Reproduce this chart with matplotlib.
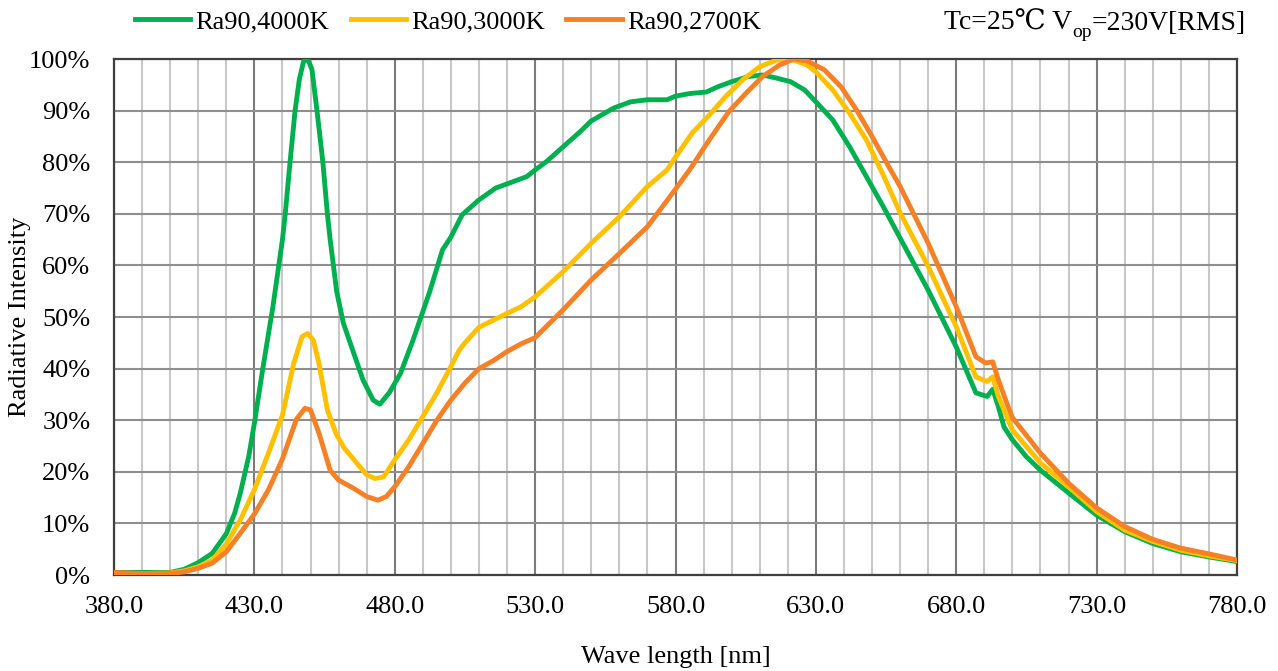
import matplotlib
matplotlib.use("Agg")
import matplotlib.pyplot as plt
from matplotlib.ticker import FixedLocator

plt.rcParams['font.family'] = ['Liberation Serif', 'DejaVu Serif', 'Noto Sans CJK SC']

# spectra (wavelength nm, relative intensity %)
wl_4000 = [380, 390, 400, 405, 410, 415, 420, 423, 425, 428, 430, 433, 436.6, 440, 441,
           442.7, 444.5, 446, 447.5, 449, 450.5, 452.3, 454.4, 456, 457, 459.3, 461.7, 465,
           468.7, 472.3, 474.7, 478, 482, 486.5, 492.5, 497, 500, 504, 510, 516, 522, 527,
           530, 534, 540, 546, 550, 558, 564, 570, 577, 580, 585, 591, 595, 600, 606, 611,
           616, 621, 626, 630, 636, 642, 648, 654, 660, 670, 680, 687, 691, 693, 695, 697,
           700, 705, 710, 720, 730, 740, 750, 760, 770, 780]
ra90_4000 = [0.5, 0.5, 0.5, 1.1, 2.4, 4.2, 8.0, 12, 15.9, 23, 29.4, 40, 52, 65, 70,
             80, 90, 96, 99.5, 100, 98, 90, 80, 70, 65, 55, 48.8, 43.6,
             37.8, 33.9, 33.1, 35.3, 39, 45.5, 55, 63, 65.5, 69.8, 72.7, 75, 76.2, 77.2,
             78.5, 80.1, 83, 85.9, 88, 90.5, 91.7, 92.1, 92.1, 92.8, 93.3, 93.6, 94.6, 95.6, 96.6, 96.9,
             96.3, 95.6, 94, 91.7, 88.2, 83, 77.2, 71.4, 65.3, 55.2, 44.2, 35.3, 34.6, 36, 32.6, 28.7,
             26.2, 22.9, 20.3, 15.9, 11.6, 8.4, 6.1, 4.5, 3.5, 2.6]

wl_3000 = [380, 390, 400, 405, 410, 415, 420, 425, 430, 435, 440, 444, 447, 449, 451, 453,
           456, 459, 462, 466, 470, 473, 476, 480, 485, 490, 495, 500, 503, 505, 510, 520,
           525, 530, 540, 550, 560, 570, 577, 580, 586, 592, 598, 604, 610, 616, 622, 627,
           630, 636, 642, 648, 654, 660, 670, 680, 687, 691, 693, 695, 700, 710, 720, 730,
           740, 750, 760, 770, 780]
ra90_3000 = [0.3, 0.3, 0.4, 0.8, 1.6, 2.9, 6.0, 10.7, 16.5, 23.6, 31.0, 41, 46.2, 46.8, 45.5, 41,
             32, 27.5, 24.6, 22, 19.4, 18.7, 19, 22.3, 26.2, 30.7, 35.3, 40.4, 43.6, 45, 48, 50.7,
             52, 53.9, 58.8, 64.3, 69.4, 75.3, 78.5, 81, 85.7, 89.1, 92.8, 96, 98.5, 99.8, 99.8, 98.8,
             97.5, 94, 89.5, 84.3, 77.5, 70.2, 59.8, 48.1, 38.4, 37.5, 38.4, 34.6, 28.1, 21.7, 17.1, 12.3,
             8.7, 6.5, 4.8, 3.7, 2.8]

wl_2700 = [380, 390, 400, 405, 410, 415, 420, 425, 430, 435, 440, 445, 448, 450, 453, 457,
           460, 465, 470, 474, 477, 480, 485, 490, 495, 500, 505, 510, 515, 520, 525, 530,
           540, 550, 560, 570, 578, 585, 592, 599, 605, 611, 617, 622, 627, 633, 639, 644.5,
           650, 656, 660, 670, 680, 687, 690.4, 693, 695, 698, 700, 710, 720, 730, 740, 750,
           760, 770, 780]
ra90_2700 = [0.5, 0.3, 0.3, 0.6, 1.3, 2.3, 4.5, 8.1, 11.8, 16.5, 22.5, 30.2, 32.3, 32, 27.5, 20.3,
             18.4, 16.9, 15.2, 14.5, 15.2, 17.1, 21, 25.5, 30, 33.9, 37.2, 40, 41.5, 43.3, 44.8, 46,
             51.4, 57.2, 62.3, 67.5, 73.3, 78.5, 84.3, 89.8, 93.3, 96.6, 98.8, 100, 99.6, 97.9, 94.6, 90.1,
             85, 79.1, 75.3, 64.3, 52, 42.3, 41.1, 41.3, 37.8, 33.3, 30.5, 23.6, 17.8, 13, 9.4, 6.9,
             5.2, 4.1, 2.9]

labels = ['Ra90,4000K', 'Ra90,3000K', 'Ra90,2700K']
colors = ['#00B050', '#FFC000', '#F58025']
x_major = list(range(380, 781, 50))
x_minor = list(range(380, 781, 10))
y_ticks = list(range(0, 101, 10))

W, H = 1278, 671
fig = plt.figure(figsize=(W / 100, H / 100), dpi=100)
ax = fig.add_axes([114 / W, (H - 575) / H, (1237 - 114) / W, (575 - 59) / H])

for wl, vals, lab, c in zip([wl_4000, wl_3000, wl_2700],
                            [ra90_4000, ra90_3000, ra90_2700], labels, colors):
    ax.plot(wl, vals, color=c, lw=3.5, label=lab, solid_joinstyle='round', zorder=3)

ax.set_xlim(380, 780)
ax.set_ylim(0, 100)
ax.xaxis.set_major_locator(FixedLocator(x_major))
ax.xaxis.set_minor_locator(FixedLocator(x_minor))
ax.set_xticklabels([f'{v:.1f}' for v in x_major])
ax.set_yticks(y_ticks)
ax.set_yticklabels([f'{v}%' for v in y_ticks])

ax.grid(which='minor', axis='x', color='#c8c8c8', lw=1.5)
ax.grid(which='major', axis='x', color='#7a7a7a', lw=1.5)
ax.grid(which='major', axis='y', color='#8e8e8e', lw=1.5)
ax.set_axisbelow(True)
for s in ax.spines.values():
    s.set_color('#404040')
    s.set_linewidth(1.6)

ax.tick_params(which='both', length=0, labelsize=19)
ax.tick_params(axis='x', pad=15)
ax.tick_params(axis='y', pad=17)

ax.set_xlabel('Wave length [nm]', fontsize=19)
ax.xaxis.set_label_coords(0.5, -(657 - 575) / 516)
ax.xaxis.label.set_va('center')
ax.set_ylabel('Radiative Intensity', fontsize=19)
ax.yaxis.set_label_coords(-(114 - 20) / 1123, 0.5)
ax.yaxis.label.set_va('center')

fig.legend(loc='center left', bbox_to_anchor=(135 / W, 1 - 22 / H), ncol=3,
           frameon=False, fontsize=19, handlelength=2.1, handletextpad=0.2,
           columnspacing=0.8, borderpad=0, borderaxespad=0)

# condition text on the right, with subscript "op"
fig.canvas.draw()
r = fig.canvas.get_renderer()
base_y = 1 - 30 / H
t3 = fig.text(1246 / W, base_y, '=230V[RMS]', ha='right', va='baseline', fontsize=20)
x3 = t3.get_window_extent(r).x0
t2 = fig.text(x3 / W, base_y - 7 / H, 'op', ha='right', va='baseline', fontsize=14)
x2 = t2.get_window_extent(r).x0
fig.text(x2 / W, base_y, 'Tc=25℃ V', ha='right', va='baseline', fontsize=20)

fig.savefig('out.png', dpi=100)
